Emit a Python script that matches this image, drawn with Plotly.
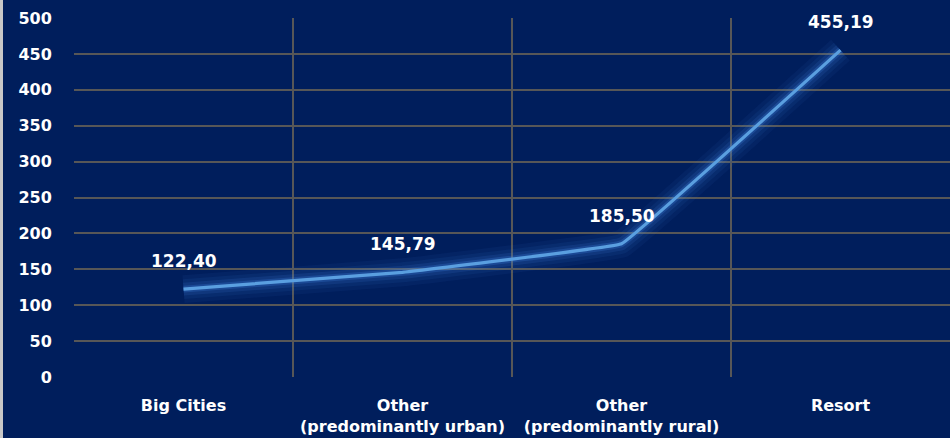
import plotly.graph_objects as go

categories = ["Big Cities", "Other<br>(predominantly urban)", "Other<br>(predominantly rural)", "Resort"]
values = [122.40, 145.79, 185.50, 455.19]
y_ticks = [0, 50, 100, 150, 200, 250, 300, 350, 400, 450, 500]

xpos = list(range(len(categories)))
labels = [f"{v:.2f}".replace(".", ",") for v in values]

BG = "#001e5c"
GRID = "#575757"
LINE = "#5a9fe0"
FONT = "DejaVu Sans"

fig = go.Figure()
# glow layers
for w, a in [(28, 0.06), (20, 0.08), (13, 0.12), (7, 0.22)]:
    fig.add_trace(go.Scatter(x=xpos, y=values, mode="lines",
                             line=dict(color=f"rgba(70,140,235,{a})", width=w, shape="spline", smoothing=0.12),
                             hoverinfo="skip", showlegend=False))
fig.add_trace(go.Scatter(x=xpos, y=values, mode="lines",
                         line=dict(color=LINE, width=3.2, shape="spline", smoothing=0.12),
                         showlegend=False))

for x, v, t in zip(xpos, values, labels):
    fig.add_annotation(x=x, y=v, text=f"<b>{t}</b>", showarrow=False, yshift=28,
                       font=dict(family=FONT, size=17, color="white"))

n = len(categories)
fig.update_layout(
    width=950, height=438,
    margin=dict(l=74, r=0, t=18, b=61),
    paper_bgcolor=BG, plot_bgcolor=BG,
    showlegend=False,
    xaxis=dict(
        range=[-0.5, n - 0.5], automargin=False,
        tickvals=xpos, ticktext=[f"<b>{c}</b>" for c in categories],
        tickfont=dict(family=FONT, size=16, color="white"),
        showgrid=False, zeroline=False, showline=False,
        ticks="outside", ticklen=14, tickcolor="rgba(0,0,0,0)",
        minor=dict(tickvals=[i - 0.5 for i in range(n + 1)], showgrid=True,
                   gridcolor=GRID, gridwidth=2, ticks=""),
    ),
    yaxis=dict(
        range=[0, 500], tickvals=y_ticks, automargin=False,
        ticktext=[f"<b>{t}</b>" for t in y_ticks],
        tickfont=dict(family=FONT, size=16, color="white"),
        showgrid=True, gridcolor=GRID, gridwidth=2,
        zeroline=False, showline=False,
        ticks="outside", ticklen=18, tickcolor="rgba(0,0,0,0)",
    ),
    shapes=[dict(type="rect", xref="paper", yref="paper",
                 x0=-74 / 876, x1=-71 / 876, y0=-61 / 359, y1=1 + 18 / 359,
                 fillcolor="#c8c8c8", line=dict(width=0), layer="above")],
)

fig.write_html("out.html", config={"displayModeBar": False},
               post_script="document.body.style.margin='0';document.body.style.overflow='hidden';")
